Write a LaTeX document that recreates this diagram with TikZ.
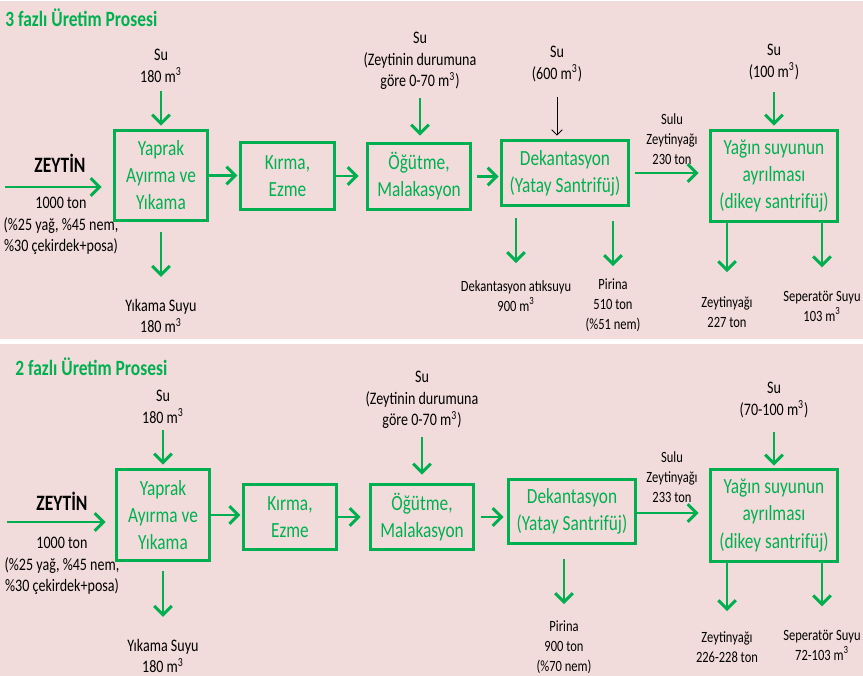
\documentclass[tikz,border=0pt]{standalone}
\usepackage{fontspec}
\setmainfont{Carlito}[FakeStretch=0.8]
\usetikzlibrary{arrows.meta}
\definecolor{yesil}{HTML}{00B050}
\definecolor{pembe}{HTML}{F2DCDB}

\begin{document}
\begin{tikzpicture}[x=0.02cm, y=-0.02cm,
  kutu/.style={draw=yesil, line width=1.7pt, text=yesil, align=center, inner sep=0pt,
    font=\fontsize{12.3}{15.4}\selectfont},
  etiket/.style={align=center, inner sep=0pt, font=\fontsize{10}{12.2}\selectfont},
  kucuk/.style={align=center, inner sep=0pt, font=\fontsize{8.9}{11.4}\selectfont},
  baslik/.style={anchor=west, inner sep=0pt, text=yesil, font=\fontsize{12.4}{15}\selectfont\bfseries},
  hammadde/.style={inner sep=0pt, font=\fontsize{12.5}{15}\selectfont\bfseries},
  akis/.style={draw=yesil, line width=1.7pt, -{Straight Barb[length=5pt, width=10pt]}},
  ince/.style={draw=black, line width=0.5pt, -{Straight Barb[length=3pt, width=6pt]}}]
\useasboundingbox (0,0) rectangle (863,676);
\fill[pembe] (0,1) rectangle (863,339);
\fill[pembe] (0,344) rectangle (863,676);

% 3 fazli
\node[baslik] (baslik1) at (5,18) {3 fazlı Üretim Prosesi};
\node[kutu, minimum width=1.86cm, minimum height=1.8cm] (yikama1) at (161,175.5) {Yaprak\\Ayırma ve\\Yıkama};
\node[kutu, minimum width=1.88cm, minimum height=1.34cm] (kirma1) at (287.5,176) {Kırma,\\Ezme};
\node[kutu, minimum width=2.06cm, minimum height=1.32cm] (ogutme1) at (419,176.5) {Öğütme,\\Malakasyon};
\node[kutu, minimum width=2.54cm, minimum height=1.3cm] (dekant1) at (565,173) {Dekantasyon\\(Yatay Santrifüj)};
\node[kutu, minimum width=2.54cm, minimum height=1.82cm] (ayir1) at (774,176) {Yağın suyunun\\ayrılması\\(dikey santrifüj)};

\node[hammadde] (zeytin1) at (60,163) {ZEYTİN};
\node[etiket] (ton1) at (61,226) {1000 ton\\(\%25 yağ, \%45 nem,\\\%30 çekirdek+posa)};
\node[etiket] (su1) at (161,66) {Su\\180 m\textsuperscript{3}};
\node[etiket] (yikamasuyu1) at (161,316) {Yıkama Suyu\\180 m\textsuperscript{3}};
\node[etiket] (su3) at (420,61) {Su\\(Zeytinin durumuna\\göre 0-70 m\textsuperscript{3})};
\node[etiket] (su4) at (557,64) {Su\\(600 m\textsuperscript{3})};
\node[kucuk] (sulu1) at (672,139) {Sulu\\Zeytinyağı\\230 ton};
\node[etiket] (su5) at (774,62) {Su\\(100 m\textsuperscript{3})};
\node[kucuk] (dekatik1) at (516,296) {Dekantasyon atıksuyu\\900 m\textsuperscript{3}};
\node[kucuk] (pirina1) at (613,305) {Pirina\\510 ton\\(\%51 nem)};
\node[kucuk] (zyag1) at (727,312) {Zeytinyağı\\227 ton};
\node[kucuk] (sep1) at (822,306) {Seperatör Suyu\\103 m\textsuperscript{3}};

\coordinate (giris1) at (5,187);
\draw[akis, shorten >=0.23cm] (giris1) -- (giris1 -| yikama1.west);
\draw[akis, shorten >=1pt] (yikama1.east) -- (yikama1.east -| kirma1.west);
\draw[akis, shorten >=0.15cm] (kirma1.east) -- (kirma1.east -| ogutme1.west);
\draw[akis, shorten <=0.11cm, shorten >=0.03cm] (ogutme1.east) -- (ogutme1.east -| dekant1.west);
\draw[akis, shorten <=0.11cm, shorten >=0.21cm] (dekant1.east) -- (dekant1.east -| ayir1.west);
\draw[akis, shorten <=0.16cm, shorten >=0.07cm] (su1.south) -- (su1.south |- yikama1.north);
\draw[akis, shorten <=0.16cm, shorten >=0.13cm] (su3.south) -- (su3.south |- ogutme1.north);
\draw[ince, shorten <=0.3cm, shorten >=0.07cm] (su4.south) -- (su4.south |- dekant1.north);
\draw[akis, shorten <=0.24cm, shorten >=0.07cm] (su5.south) -- (su5.south |- ayir1.north);
\draw[akis, shorten <=0.21cm, shorten >=0.44cm] (yikama1.south) -- (yikamasuyu1.north);
\draw[akis, shorten <=0.23cm, shorten >=0.34cm] (dekant1.south -| dekatik1.north) -- (dekatik1.north);
\draw[akis, shorten <=0.29cm, shorten >=0.24cm] (dekant1.south -| pirina1.north) -- (pirina1.north);
\draw[akis, shorten >=0.48cm] (ayir1.south -| zyag1.north) -- (zyag1.north);
\draw[akis, shorten >=0.46cm] (ayir1.south -| sep1.north) -- (sep1.north);

% 2 fazli
\node[baslik] (baslik2) at (15,367) {2 fazlı Üretim Prosesi};
\node[kutu, minimum width=1.86cm, minimum height=1.82cm] (yikama2) at (163,515) {Yaprak\\Ayırma ve\\Yıkama};
\node[kutu, minimum width=1.86cm, minimum height=1.3cm] (kirma2) at (290,517) {Kırma,\\Ezme};
\node[kutu, minimum width=2.06cm, minimum height=1.3cm] (ogutme2) at (422,517) {Öğütme,\\Malakasyon};
\node[kutu, minimum width=2.54cm, minimum height=1.28cm] (dekant2) at (572,511.5) {Dekantasyon\\(Yatay Santrifüj)};
\node[kutu, minimum width=2.54cm, minimum height=1.84cm] (ayir2) at (774,515.5) {Yağın suyunun\\ayrılması\\(dikey santrifüj)};

\node[hammadde] (zeytin2) at (62,501) {ZEYTİN};
\node[etiket] (ton2) at (62,566) {1000 ton\\(\%25 yağ, \%45 nem,\\\%30 çekirdek+posa)};
\node[etiket] (su1b) at (163,407) {Su\\180 m\textsuperscript{3}};
\node[etiket] (yikamasuyu2) at (163,656) {Yıkama Suyu\\180 m\textsuperscript{3}};
\node[etiket] (su3b) at (422,400) {Su\\(Zeytinin durumuna\\göre 0-70 m\textsuperscript{3})};
\node[kucuk] (sulu2) at (672,477) {Sulu\\Zeytinyağı\\233 ton};
\node[etiket] (su5b) at (774,400) {Su\\(70-100 m\textsuperscript{3})};
\node[kucuk] (pirina2) at (564,647) {Pirina\\900 ton\\(\%70 nem)};
\node[kucuk] (zyag2) at (727,647) {Zeytinyağı\\226-228 ton};
\node[kucuk] (sep2) at (822,645) {Seperatör Suyu\\72-103 m\textsuperscript{3}};

\coordinate (giris2) at (7,522);
\draw[akis, shorten >=0.19cm] (giris2) -- (giris2 -| yikama2.west);
\draw[akis, shorten >=1pt] (yikama2.east) -- (yikama2.east -| kirma2.west);
\draw[akis, shorten >=0.17cm] (kirma2.east) -- (kirma2.east -| ogutme2.west);
\draw[akis, shorten <=0.13cm, shorten >=0.07cm] (ogutme2.east) -- (ogutme2.east -| dekant2.west);
\draw[akis, shorten >=0.21cm] ([yshift=-0.03cm]dekant2.east) -- ([yshift=-0.03cm]dekant2.east -| ayir2.west);
\draw[akis, shorten <=0.12cm, shorten >=0.07cm] (su1b.south) -- (su1b.south |- yikama2.north);
\draw[akis, shorten <=0.16cm, shorten >=0.17cm] (su3b.south) -- (su3b.south |- ogutme2.north);
\draw[akis, shorten <=0.28cm, shorten >=0.05cm] (su5b.south) -- (su5b.south |- ayir2.north);
\draw[akis, shorten <=0.19cm, shorten >=0.44cm] (yikama2.south) -- (yikamasuyu2.north);
\draw[akis, shorten <=0.29cm, shorten >=0.32cm] (dekant2.south -| pirina2.north) -- (pirina2.north);
\draw[akis, shorten >=0.4cm] (ayir2.south -| zyag2.north) -- (zyag2.north);
\draw[akis, shorten >=0.46cm] (ayir2.south -| sep2.north) -- (sep2.north);
\end{tikzpicture}
\end{document}
